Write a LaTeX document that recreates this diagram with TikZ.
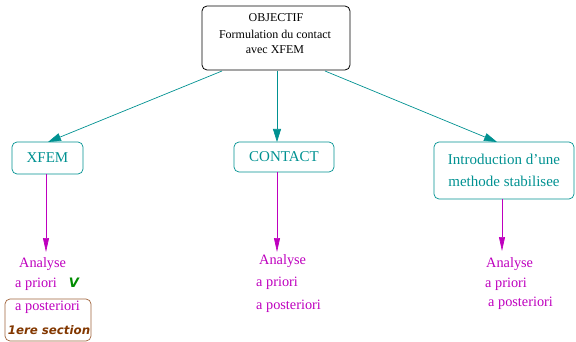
\documentclass[tikz,border=0pt]{standalone}
\usepackage{fontspec}
\setmainfont{Liberation Serif}
\newfontfamily\dejafont{DejaVu Sans}
\usetikzlibrary{arrows.meta}
\definecolor{tealc}{RGB}{0,145,145}
\definecolor{magc}{RGB}{190,0,190}
\definecolor{greenc}{RGB}{0,140,0}
\definecolor{brownc}{RGB}{130,55,0}
\definecolor{brownb}{RGB}{160,100,60}
\begin{document}
\begin{tikzpicture}[x=1pt,y=-1pt,
  topbox/.style={draw=black,rounded corners=5pt,line width=0.8pt,inner sep=0pt},
  secbox/.style={draw=tealc,rounded corners=5pt,line width=0.7pt,text=tealc,inner sep=0pt,font=\fontsize{15}{18}\selectfont},
  tarr/.style={draw=tealc,line width=0.7pt,-{Triangle[length=13pt,width=8pt]}},
  marr/.style={draw=magc,line width=0.7pt,-{Triangle[length=14pt,width=6pt]}},
  mtxt/.style={text=magc,font=\fontsize{14.3}{16}\selectfont,inner sep=0pt,anchor=west},
  ttxt/.style={font=\fontsize{12}{13}\selectfont,inner sep=0pt}]
\useasboundingbox (0,0) rectangle (576,342);
% top box
\node[topbox,minimum width=148pt,minimum height=64pt] (top) at (276,38) {};
\node[ttxt] (t1) at (276,18) {OBJECTIF};
\node[ttxt] (t2) at (275,34) {Formulation du contact};
\node[ttxt] (t3) at (275,50) {avec XFEM};
% section boxes
\node[secbox,minimum width=71pt,minimum height=32pt] (xfem) at (47.5,158) {XFEM};
\node[secbox,minimum width=100pt,minimum height=30pt] (contact) at (284,157) {CONTACT};
\node[secbox,minimum width=140pt,minimum height=57pt,align=center] (intro) at (504,170.5) {Introduction d'une\\[4pt]methode stabilisee};
% teal arrows
\coordinate (s1) at (222,71);
\coordinate (s2) at (277,71);
\coordinate (s3) at (325,71);
\draw[tarr] (s1) -- (48,142);
\draw[tarr] (s2) -- (277,142);
\draw[tarr] (s3) -- (497,142);
% magenta arrows
\coordinate (e1) at (46,252);
\coordinate (e2) at (277,252);
\coordinate (e3) at (502,251);
\draw[marr] (46,174) -- (e1);
\draw[marr] (277,172) -- (e2);
\draw[marr] (502,199) -- (e3);
% left texts
\node[mtxt] (a1) at (19,264) {Analyse};
\node[mtxt] (p1) at (15,284) {a priori};
\node[text=greenc,font=\dejafont\fontsize{13}{14}\selectfont\bfseries\itshape,inner sep=0pt] (v) at (74,283) {V};
\draw[draw=brownb,rounded corners=5pt,line width=0.7pt] (5,299) rectangle (91,341);
\node[mtxt] (q1) at (15,307) {a posteriori};
\node[text=brownc,font=\dejafont\fontsize{11.8}{14}\selectfont\bfseries\itshape,inner sep=0pt] (sec) at (49,330) {1ere section};
% middle texts
\node[mtxt] (a2) at (259,261) {Analyse};
\node[mtxt] (p2) at (256,283) {a priori};
\node[mtxt] (q2) at (256,306) {a posteriori};
% right texts
\node[mtxt] (a3) at (486,264) {Analyse};
\node[mtxt] (p3) at (485,284) {a priori};
\node[mtxt] (q3) at (488,303) {a posteriori};
\end{tikzpicture}
\end{document}
